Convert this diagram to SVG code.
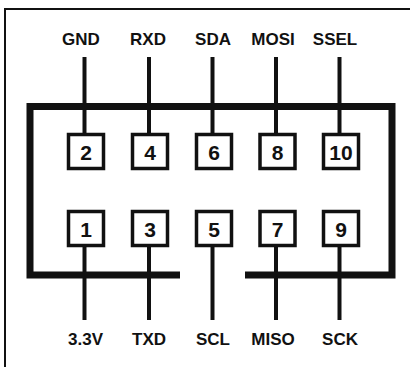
<svg xmlns="http://www.w3.org/2000/svg" width="410" height="367" viewBox="0 0 410 367">
<style>
.lbl{font-family:"Liberation Sans",Arial,sans-serif;font-weight:bold;font-size:17px;fill:#111;text-anchor:middle}
.num{font-family:"Liberation Sans",Arial,sans-serif;font-weight:bold;font-size:21px;fill:#111;text-anchor:middle}
.box{fill:#fff;stroke:#111;stroke-width:3.5}
.wire{stroke:#111;stroke-width:4;fill:none}
.frame{stroke:#111;stroke-width:7;fill:none;stroke-linejoin:miter}
</style>
<rect x="0" y="0" width="410" height="367" fill="#fff"/>
<rect x="5" y="9" width="420" height="400" fill="none" stroke="#111" stroke-width="2"/>
<g id="connectors">
<line class="wire" x1="84.5" y1="57" x2="84.5" y2="135"/>
<line class="wire" x1="149" y1="57" x2="149" y2="135"/>
<line class="wire" x1="212.5" y1="57" x2="212.5" y2="135"/>
<line class="wire" x1="276" y1="57" x2="276" y2="135"/>
<line class="wire" x1="339.5" y1="57" x2="339.5" y2="135"/>
<line class="wire" x1="84.5" y1="245" x2="84.5" y2="320"/>
<line class="wire" x1="149" y1="245" x2="149" y2="320"/>
<line class="wire" x1="212.5" y1="245" x2="212.5" y2="320"/>
<line class="wire" x1="276" y1="245" x2="276" y2="320"/>
<line class="wire" x1="339.5" y1="245" x2="339.5" y2="320"/>
</g>
<g id="header">
<path class="frame" d="M180,275 H30 V106.5 H392 V275 H245"/>
</g>
<g id="pin2"><rect class="box" x="68.5" y="134.5" width="35" height="34"/><text class="num" x="86" y="159.5">2</text><text class="lbl" x="81" y="45">GND</text></g>
<g id="pin4"><rect class="box" x="132.5" y="134.5" width="35" height="34"/><text class="num" x="150" y="159.5">4</text><text class="lbl" x="148" y="45">RXD</text></g>
<g id="pin6"><rect class="box" x="196.5" y="134.5" width="35" height="34"/><text class="num" x="214" y="159.5">6</text><text class="lbl" x="213" y="45">SDA</text></g>
<g id="pin8"><rect class="box" x="260" y="134.5" width="35" height="34"/><text class="num" x="277.5" y="159.5">8</text><text class="lbl" x="273" y="45">MOSI</text></g>
<g id="pin10"><rect class="box" x="323.5" y="134.5" width="35" height="34"/><text class="num" x="341" y="159.5">10</text><text class="lbl" x="335" y="45">SSEL</text></g>
<g id="pin1"><rect class="box" x="68.5" y="211.5" width="35" height="34"/><text class="num" x="86" y="236.5">1</text><text class="lbl" x="85.5" y="345">3.3V</text></g>
<g id="pin3"><rect class="box" x="132.5" y="211.5" width="35" height="34"/><text class="num" x="150" y="236.5">3</text><text class="lbl" x="149" y="345">TXD</text></g>
<g id="pin5"><rect class="box" x="196.5" y="211.5" width="35" height="34"/><text class="num" x="214" y="236.5">5</text><text class="lbl" x="213" y="345">SCL</text></g>
<g id="pin7"><rect class="box" x="260" y="211.5" width="35" height="34"/><text class="num" x="277.5" y="236.5">7</text><text class="lbl" x="273" y="345">MISO</text></g>
<g id="pin9"><rect class="box" x="323.5" y="211.5" width="35" height="34"/><text class="num" x="341" y="236.5">9</text><text class="lbl" x="340" y="345">SCK</text></g>
</svg>
